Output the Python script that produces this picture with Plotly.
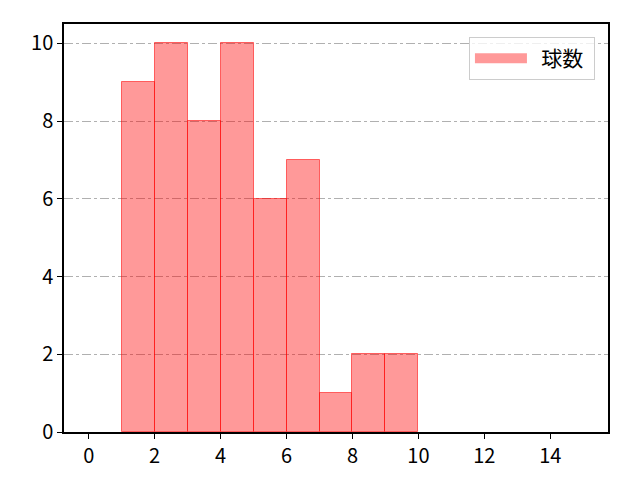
import plotly.graph_objects as go

# histogram bins (left edges) and counts
bin_left = [1, 2, 3, 4, 5, 6, 7, 8, 9]
counts = [9, 10, 8, 10, 6, 7, 1, 2, 2]
series_name = "球数"

x_ticks = [0, 2, 4, 6, 8, 10, 12, 14]
y_ticks = [0, 2, 4, 6, 8, 10]

centers = [b + 0.5 for b in bin_left]

fig = go.Figure()
fig.add_trace(go.Bar(
    x=centers, y=counts, width=1, name=series_name,
    marker=dict(color="rgba(255,0,0,0.4)",
                line=dict(color="rgba(255,0,0,0.55)", width=1)),
    showlegend=False,
))
# legend entry drawn as a wide patch, like matplotlib
fig.add_trace(go.Scatter(
    x=[None], y=[None], mode="lines", name="  " + series_name + " ",
    line=dict(color="rgba(255,0,0,0.4)", width=18),
))

fig.update_layout(
    width=640, height=480,
    margin=dict(l=56, r=40, t=16, b=56),
    plot_bgcolor="white", paper_bgcolor="white",
    font=dict(family="Noto Sans CJK JP", size=20, color="black"),
    bargap=0,
    showlegend=True,
    legend=dict(
        x=0.976, y=0.968, xanchor="right", yanchor="top",
        bgcolor="rgba(255,255,255,0.8)", bordercolor="#cccccc", borderwidth=1,
        font=dict(size=21), itemwidth=52,
    ),
)

fig.update_xaxes(
    range=[-0.75, 15.75], tickvals=x_ticks,
    showgrid=False, zeroline=False,
    showline=True, linecolor="black", linewidth=1.5, mirror=True,
    ticks="outside", ticklen=5, tickwidth=1.2, tickcolor="black",
)
fig.update_yaxes(
    range=[0, 10.5], tickvals=y_ticks,
    showgrid=True, gridcolor="#b0b0b0", gridwidth=1, griddash="dashdot",
    zeroline=False, layer="above traces",
    showline=True, linecolor="black", linewidth=1.5, mirror=True,
    ticks="outside", ticklen=5, tickwidth=1.2, tickcolor="black",
)

fig.write_html("out.html")
